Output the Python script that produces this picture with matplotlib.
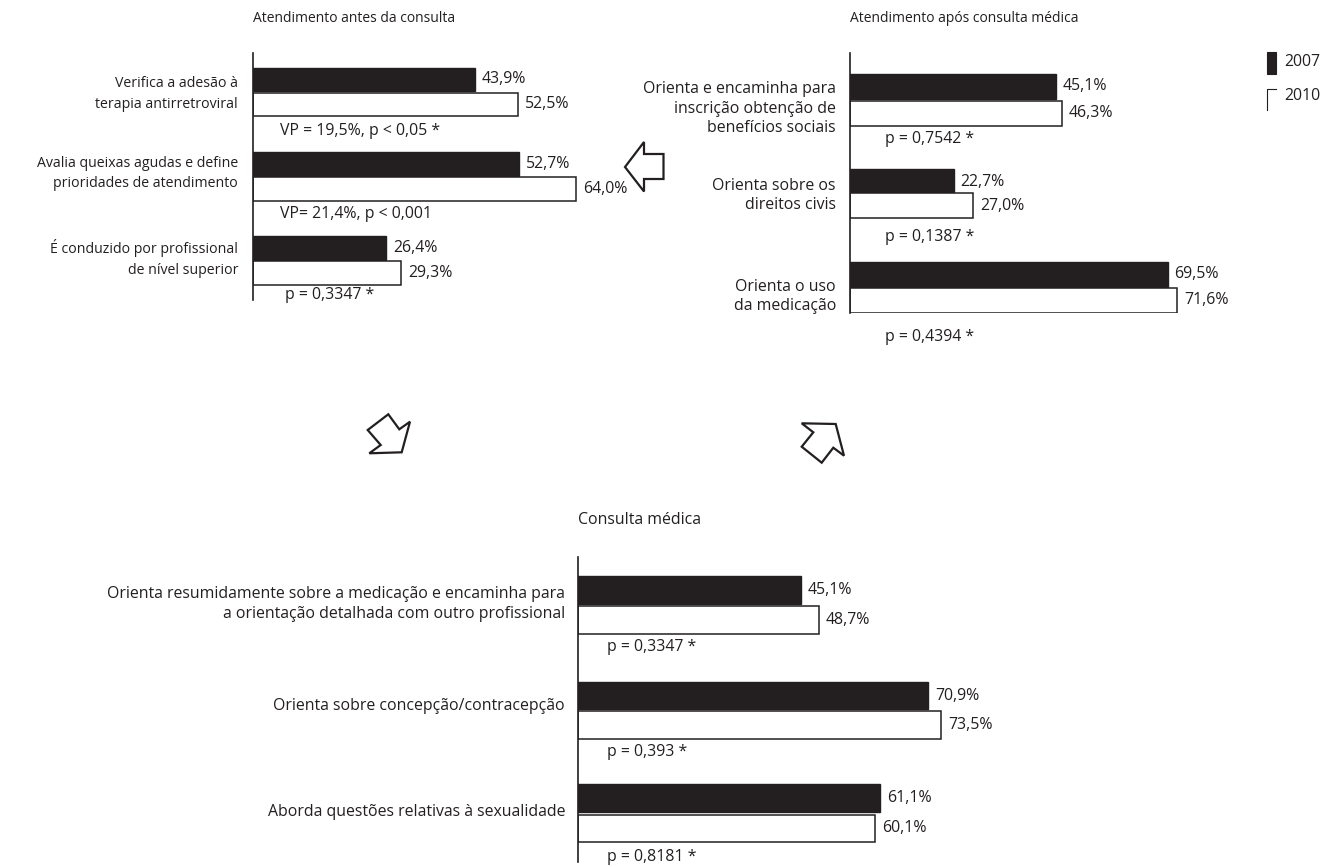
import matplotlib
matplotlib.use("Agg")
import matplotlib.pyplot as plt
from matplotlib.patches import Polygon, Rectangle

plt.rcParams['font.family'] = ['Open Sans', 'DejaVu Sans']

W, H = 1323, 867
DARK = '#231f20'
FS = 11.4

# ---------------- data ----------------
title_antes = "Atendimento antes da consulta"
cats_antes = ["Verifica a adesão à\nterapia antirretroviral",
              "Avalia queixas agudas e define\nprioridades de atendimento",
              "É conduzido por profissional\nde nível superior"]
v2007_antes = [43.9, 52.7, 26.4]
v2010_antes = [52.5, 64.0, 29.3]
p_antes = ["VP = 19,5%, p < 0,05 *", "VP= 21,4%, p < 0,001", "p = 0,3347 *"]

title_apos = "Atendimento após consulta médica"
cats_apos = ["Orienta e encaminha para\ninscrição obtenção de\nbenefícios sociais",
             "Orienta sobre os\ndireitos civis",
             "Orienta o uso\nda medicação"]
v2007_apos = [45.1, 22.7, 69.5]
v2010_apos = [46.3, 27.0, 71.6]
p_apos = ["p = 0,7542 *", "p = 0,1387 *", "p = 0,4394 *"]

title_cons = "Consulta médica"
cats_cons = ["Orienta resumidamente sobre a medicação e encaminha para\na orientação detalhada com outro profissional",
             "Orienta sobre concepção/contracepção",
             "Aborda questões relativas à sexualidade"]
v2007_cons = [45.1, 70.9, 61.1]
v2010_cons = [48.7, 73.5, 60.1]
p_cons = ["p = 0,3347 *", "p = 0,393 *", "p = 0,8181 *"]

years = ["2007", "2010"]


def fmt(v):
    return f"{v:.1f}".replace('.', ',') + '%'


fig = plt.figure(figsize=(W / 100, H / 100), dpi=100)
bg = fig.add_axes([0, 0, 1, 1])
bg.set_xlim(0, W)
bg.set_ylim(H, 0)
bg.axis('off')


def panel(x0, ytop, ybot, pxper, title, title_y, title_fs, cats, a, b,
          c_black, c_white, bh, plabels, p_y, p_dx, lab_dy, lab_x, cat_fs, cat_ls):
    width_px = 450
    ax = fig.add_axes([x0 / W, 1 - ybot / H, width_px / W, (ybot - ytop) / H])
    ax.set_xlim(0, width_px / pxper)
    ax.set_ylim(ybot, ytop)
    ax.axis('off')
    ax.plot([0, 0], [ytop, ybot], color=DARK, lw=1.2, clip_on=False)
    ax.barh(c_black, a, height=bh, color=DARK, edgecolor=DARK, lw=1)
    ax.barh(c_white, b, height=bh, color='white', edgecolor=DARK, lw=1.1)
    off = 7 / pxper
    for y, v in zip(c_black, a):
        ax.text(v + off, y, fmt(v), ha='left', va='center', fontsize=FS, color=DARK)
    for y, v in zip(c_white, b):
        ax.text(v + off, y, fmt(v), ha='left', va='center', fontsize=FS, color=DARK)
    for i, c in enumerate(cats):
        yc = (c_black[i] + c_white[i]) / 2 + lab_dy[i]
        bg.text(lab_x, yc, c, ha='right', va='center', fontsize=cat_fs, color=DARK,
                linespacing=cat_ls)
    for py, dx, t in zip(p_y, p_dx, plabels):
        bg.text(x0 + dx, py, t, ha='left', va='center', fontsize=FS, color=DARK)
    bg.text(x0, title_y, title, ha='left', va='center', fontsize=title_fs, color=DARK)


panel(253, 53, 300, 5.05, title_antes, 18, 10, cats_antes, v2007_antes, v2010_antes,
      [79.5, 164, 248], [104.5, 189, 273], 23.5, p_antes, [131, 214, 295], [27, 27, 32],
      [2, -3, -2], 238, 10.2, 1.5)

panel(850, 53, 313, 4.57, title_apos, 18, 10, cats_apos, v2007_apos, v2010_apos,
      [86.5, 181.5, 274.5], [113, 205.5, 300.5], 25, p_apos, [139, 237, 337], [35, 35, 35],
      [9, 2, 9], 836, FS, 1.3)

panel(578, 557, 862, 4.94, title_cons, 520, FS, cats_cons, v2007_cons, v2010_cons,
      [590, 695.5, 798], [620, 725, 828.5], 27.5, p_cons, [647, 752, 857], [29, 29, 29],
      [-1, -4, -1], 565, FS, 1.3)

# legend
bg.add_patch(Rectangle((1267, 52), 9, 22, facecolor=DARK, edgecolor=DARK, lw=0.8))
bg.plot([1267, 1267, 1276], [110, 89, 89], color=DARK, lw=0.8)
bg.text(1284, 62, years[0], ha='left', va='center', fontsize=FS, color=DARK)
bg.text(1284, 96, years[1], ha='left', va='center', fontsize=FS, color=DARK)

# arrows
arrows = [
    [(625, 167), (644, 142), (644, 154), (663.5, 154), (663.5, 179), (644, 179), (644, 191.5)],
    [(367.7, 430), (388.3, 414.3), (399.3, 429.3), (410, 421.7), (401.7, 452.3), (369.3, 453.3), (380.7, 445)],
    [(801.7, 423.3), (835.7, 424), (844, 455.7), (833.3, 447.7), (821.7, 462.7), (801.7, 446.7), (813.3, 432.3)],
]
for pts in arrows:
    bg.add_patch(Polygon(pts, closed=True, facecolor='white', edgecolor=DARK, lw=1.6,
                         joinstyle='miter'))

fig.savefig('out.png', dpi=100)
